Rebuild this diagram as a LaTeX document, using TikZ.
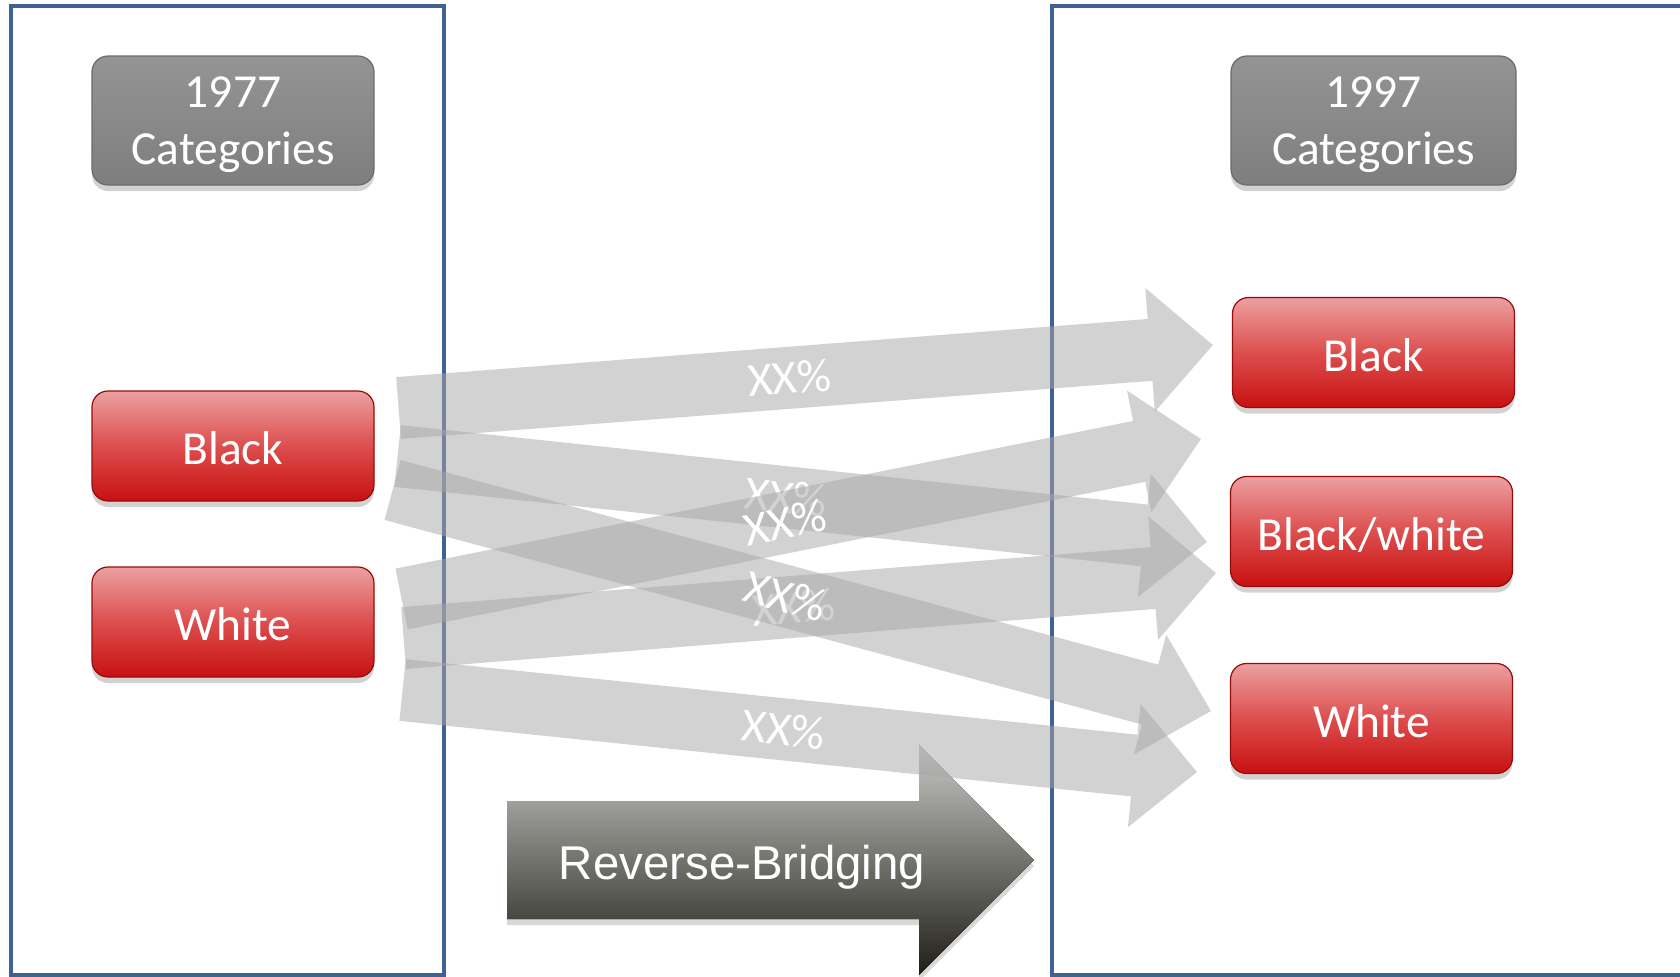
\documentclass[tikz,border=0pt]{standalone}
\usepackage{fontspec}
\setmainfont{Carlito}
\newfontfamily\arrowfont{Liberation Sans}
\usetikzlibrary{calc,shadows}

\definecolor{frameblue}{RGB}{64,98,146}
\definecolor{flowgray}{RGB}{167,167,167}
\definecolor{redtop}{RGB}{236,160,160}
\definecolor{redmid}{RGB}{221,78,78}
\definecolor{redbot}{RGB}{200,16,16}
\definecolor{cattop}{RGB}{148,148,148}
\definecolor{catbot}{RGB}{126,126,126}
\definecolor{bridgetop}{RGB}{200,200,198}
\definecolor{bridgebot}{RGB}{30,30,22}

\tikzset{
  frame/.style={draw=frameblue, line width=2pt},
  catbox/.style={rounded corners=8pt, minimum width=141pt, minimum height=64.5pt,
    text=white, align=center, font=\fontsize{23.7}{28.5}\selectfont, text depth=0pt,
    top color=cattop, bottom color=catbot, draw=catbot!85!black, line width=0.6pt,
    drop shadow={opacity=0.35, shadow xshift=0pt, shadow yshift=-3pt}},
  redbox/.style={rounded corners=8pt, minimum width=141pt, minimum height=55pt,
    text=white, font=\fontsize{23.7}{28.5}\selectfont, text height=18.6pt, text depth=0pt,
    top color=redtop, bottom color=redbot, middle color=redmid,
    draw=redbot!75!black, line width=0.6pt,
    drop shadow={opacity=0.35, shadow xshift=0pt, shadow yshift=-3pt}},
  flowlabel/.style={text=white, font=\fontsize{23.7}{28.5}\selectfont, sloped}
}

% tail, tip
\newcommand\flowarrow[2]{%
  \coordinate (s) at ($(#2)!31.5pt!(#1)$);
  \fill[flowgray, fill opacity=0.5]
    ($(#1)!15.5pt!90:(#2)$) -- ($(s)!15.5pt!90:(#2)$) -- ($(s)!31pt!90:(#2)$) -- (#2)
    -- ($(s)!31pt!-90:(#2)$) -- ($(s)!15.5pt!-90:(#2)$) -- ($(#1)!15.5pt!-90:(#2)$) -- cycle;
  \path (#1) -- (#2) node[flowlabel, pos=0.48] {XX\%};
}

\begin{document}
\begin{tikzpicture}[x=0.5pt, y=-0.5pt]
    \clip (0,0) rectangle (1680,976);
    \fill[white] (0,0) rectangle (1680,976);
    \draw[frame] (11,6) rectangle (444,975);
    \draw[frame] (1052,6) rectangle (1720,975);

    \node[catbox] (cat77) at (233,120.5) {1977\\Categories};
    \node[catbox, minimum width=142.5pt] (cat97) at (1373.5,120.5) {1997\\Categories};

    \node[redbox] (oldblack) at (233,446) {Black};
    \node[redbox] (oldwhite) at (233,622) {White};
    \node[redbox] (newblack) at (1373.5,352.5) {Black};
    \node[redbox] (newmixed) at (1371.5,531.5) {Black/white};
    \node[redbox] (newwhite) at (1371.5,718.5) {White};

    % reverse-bridging arrow
    \fill[top color=bridgetop, bottom color=bridgebot,
          drop shadow={opacity=0.3, shadow xshift=0pt, shadow yshift=-3pt}]
        (507,801) -- (919,801) -- (919,745) -- (1034,860) -- (919,975)
        -- (919,919) -- (507,919) -- cycle;
    \node[text=white, font=\arrowfont\fontsize{23.7}{28.5}\selectfont, text depth=0pt]
        (bridge) at (742,862) {Reverse-Bridging};

    % flows
    \coordinate (t1) at ($(oldblack.east)+(24,-38)$);
    \coordinate (h1) at ($(newblack.west)+(-19,-7.5)$);
    \coordinate (t2) at ($(oldblack.east)+(23,10)$);
    \coordinate (h2) at ($(newmixed.west)+(-23,10.5)$);
    \coordinate (t3) at ($(oldblack.east)+(18,44)$);
    \coordinate (h3) at ($(newwhite.west)+(-19,-7.5)$);
    \coordinate (t4) at ($(oldwhite.east)+(27,-23)$);
    \coordinate (h4) at ($(newblack.west)+(-31,86.5)$);
    \coordinate (t5) at ($(oldwhite.east)+(29,16)$);
    \coordinate (h5) at ($(newmixed.west)+(-14,41.5)$);
    \coordinate (t6) at ($(oldwhite.east)+(28,68)$);
    \coordinate (h6) at ($(newwhite.west)+(-33,53.5)$);
    \foreach \i in {1,2,4,5,3,6}
        \flowarrow{t\i}{h\i};
\end{tikzpicture}
\end{document}
